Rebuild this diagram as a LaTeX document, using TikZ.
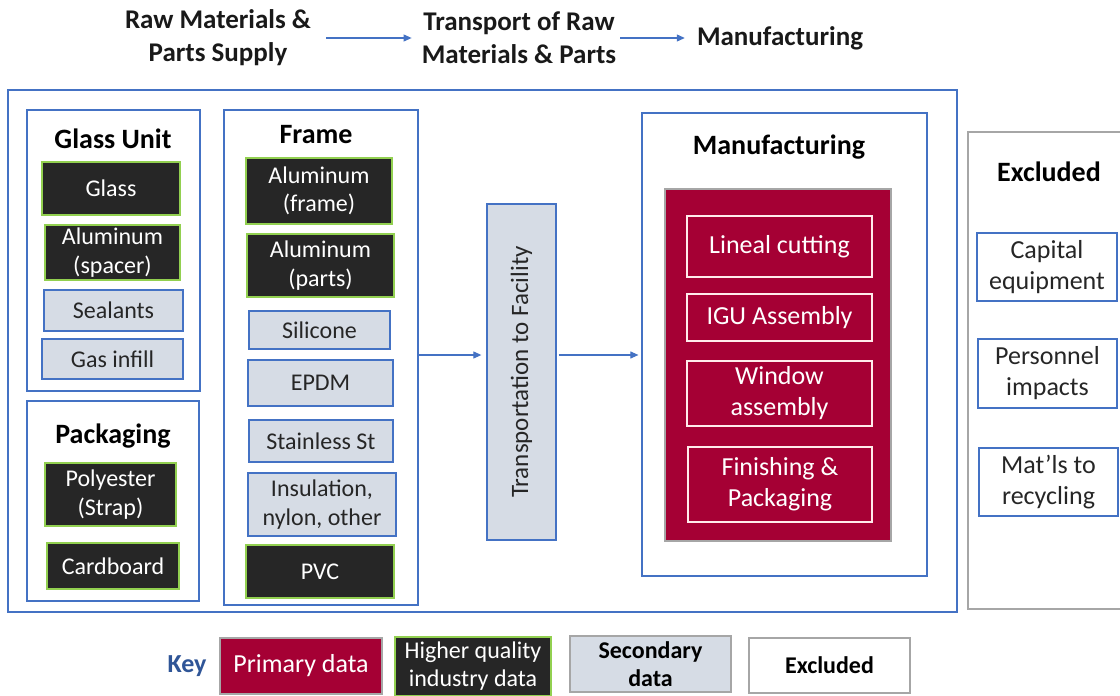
\documentclass[tikz,border=0pt]{standalone}
\usepackage{fontspec}
\setmainfont{Carlito}
\usetikzlibrary{arrows.meta}
\definecolor{blueline}{RGB}{68,114,196}
\definecolor{darkfill}{RGB}{38,38,38}
\definecolor{greenline}{RGB}{146,208,80}
\definecolor{grayfill}{RGB}{214,220,229}
\definecolor{redfill}{RGB}{165,0,52}
\definecolor{grayline}{RGB}{166,166,166}
\definecolor{keyblue}{RGB}{47,85,151}
\newcommand{\bx}[7]{% style, name, x1, y1, x2, y2, text
  \pgfmathsetmacro{\bw}{#5-#3}\pgfmathsetmacro{\bh}{#6-#4}%
  \node[#1, minimum width=\bw pt, minimum height=\bh pt] (#2) at ({(#3+#5)/2},{(#4+#6)/2}) {#7};}
\tikzset{
  base/.style={rectangle, inner sep=0pt, align=center, line width=1.3pt, font=\fontsize{24}{28.5}\selectfont},
  group/.style={base, draw=blueline, line width=1.2pt},
  exgroup/.style={base, draw=grayline, line width=1.2pt},
  darkbox/.style={base, draw=greenline, fill=darkfill, text=white},
  graybox/.style={base, draw=blueline, fill=grayfill, text=black!85},
  redbox/.style={base, draw=grayline, fill=redfill, text=white},
  innerbox/.style={base, draw=white!92!red, line width=1.3pt, text=white, font=\fontsize{26}{31}\selectfont},
  exbox/.style={base, draw=blueline, text=black!85, font=\fontsize{26}{31}\selectfont},
  title/.style={inner sep=0pt, align=center, font=\bfseries\fontsize{28}{32}\selectfont, text=black},
  toptext/.style={inner sep=0pt, align=center, font=\bfseries\fontsize{27}{33}\selectfont, text=black!90},
  arr/.style={draw=blueline, line width=1.1pt, -{Triangle[length=8pt,width=7pt]}},
}
\begin{document}
\begin{tikzpicture}[x=1pt,y=-1pt]
\useasboundingbox (0,0) rectangle (1120,696);
\clip (0,0) rectangle (1120,696);
% top flow
\node[toptext] (raw) at (218,38) {Raw Materials \&\\Parts Supply};
\node[toptext] (trp) at (519,38) {Transport of Raw\\Materials \& Parts};
\node[toptext] (man) at (780,38) {Manufacturing};
\draw[arr] ([xshift=15pt]raw.east) -- ([xshift=-10pt]trp.west);
\draw[arr] ([xshift=4pt]trp.east) -- ([xshift=-12pt]man.west);
% main box
\bx{group}{main}{8}{90}{957}{612}{}
% glass unit
\bx{group}{gu}{27}{110}{200}{391}{}
\node[title] (gut) at (113,139) {Glass Unit};
\bx{darkbox}{glass}{42}{162}{180}{215}{Glass}
\bx{darkbox}{alsp}{45}{225}{180}{280}{Aluminum\\(spacer)}
\bx{graybox}{seal}{44}{290}{183}{331}{Sealants}
\bx{graybox}{gas}{42}{339}{183}{379}{Gas infill}
% packaging
\bx{group}{pk}{27}{401}{199}{601}{}
\node[title] (pkt) at (113,436) {Packaging};
\bx{darkbox}{poly}{45}{463}{176}{526}{Polyester\\(Strap)}
\bx{darkbox}{card}{47}{543}{179}{589}{Cardboard}
% frame
\bx{group}{frame}{224}{110}{418}{605}{}
\node[title] (frt) at (316,135) {Frame};
\bx{darkbox}{alfr}{246}{158}{392}{224}{Aluminum\\(frame)}
\bx{darkbox}{alpa}{247}{234}{394}{297}{Aluminum\\(parts)}
\bx{graybox}{sil}{249}{311}{390}{349}{Silicone}
\bx{graybox}{epdm}{248}{360}{393}{406}{EPDM}
\bx{graybox}{ss}{249}{420}{393}{462}{Stainless St}
\bx{graybox}{ins}{248}{473}{396}{536}{Insulation,\\nylon, other}
\bx{darkbox}{pvc}{246}{545}{394}{598}{PVC}
% transportation
\bx{graybox}{tr}{487}{204}{556}{540}{}
\node[rotate=90, inner sep=0pt, font=\fontsize{25}{29}\selectfont, text=black!85] (trt) at (tr.center) {Transportation to Facility};
% manufacturing
\bx{group}{mfg}{642}{113}{927}{576}{}
\node[title] (mfgt) at (779,147) {Manufacturing};
\bx{redbox}{red}{665}{189}{891}{541}{}
\bx{innerbox}{lin}{687}{216}{872}{277}{Lineal cutting}
\bx{innerbox}{igu}{687}{294}{872}{341}{IGU Assembly}
\bx{innerbox}{win}{687}{361}{872}{426}{Window\\assembly}
\bx{innerbox}{fin}{688}{447}{872}{522}{Finishing \&\\Packaging}
% arrows
\coordinate (ay) at (0,355);
\draw[arr, shorten >=5pt] (frame.east |- ay) -- (tr.west |- ay);
\draw[arr, shorten <=2pt, shorten >=3pt] (tr.east |- ay) -- (mfg.west |- ay);
% excluded
\bx{exgroup}{ex}{968}{132}{1135}{609}{}
\node[title] (ext) at (1049,172) {Excluded};
\bx{exbox}{cap}{977}{233}{1117}{301}{Capital\\equipment}
\bx{exbox}{per}{978}{339}{1117}{408}{Personnel\\impacts}
\bx{exbox}{mat}{979}{448}{1118}{516}{Mat’ls to\\recycling}
% key
\node[inner sep=0pt, font=\bfseries\fontsize{26}{30}\selectfont, text=keyblue] (key) at (187,666) {Key};
\bx{redbox}{kp}{220}{638}{382}{694}{\fontsize{26}{30}\selectfont Primary data}
\bx{darkbox}{kh}{395}{637}{551}{695.5}{Higher quality\\industry data}
\bx{base, draw=grayline, fill=grayfill, text=black, font=\bfseries\fontsize{24}{28}\selectfont}{ks}{570}{636}{731}{692}{Secondary\\data}
\bx{base, draw=grayline, text=black, font=\bfseries\fontsize{24}{28}\selectfont}{ke}{749}{638}{910}{693}{Excluded}
\end{tikzpicture}
\end{document}
